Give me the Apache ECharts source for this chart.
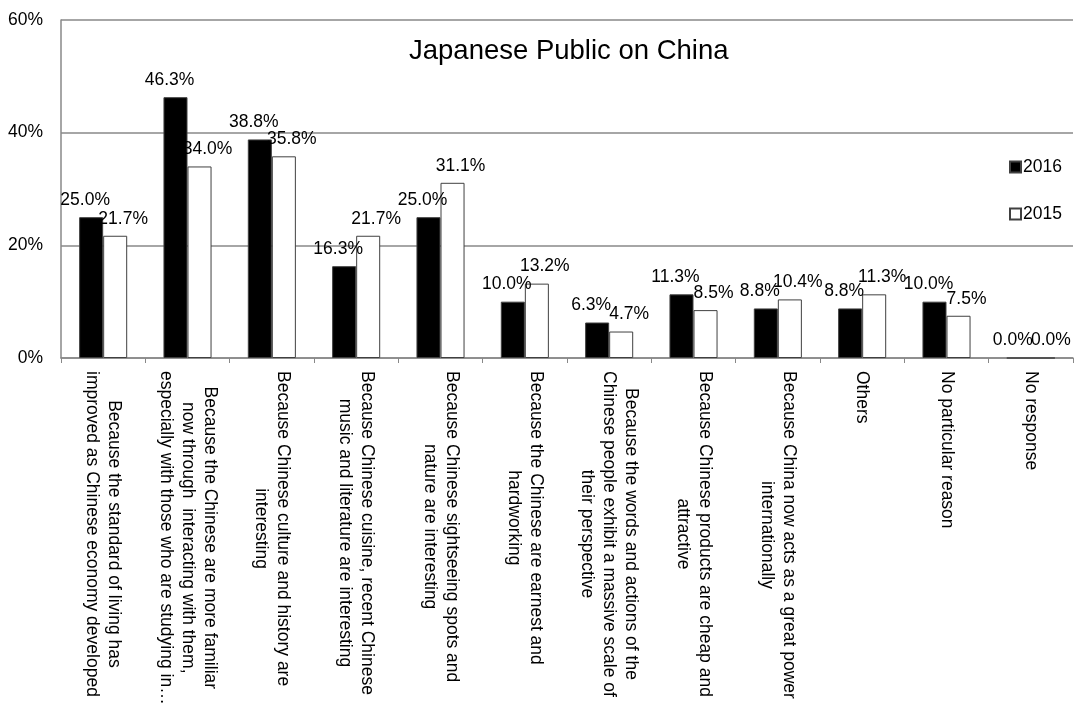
<!DOCTYPE html>
<html>
<head>
<meta charset="utf-8">
<script src="https://cdn.jsdelivr.net/npm/echarts@6/dist/echarts.min.js"></script>
<style>
  html, body { margin: 0; padding: 0; background: #fff; }
  #chart { width: 1090px; height: 704px; }
</style>
</head>
<body>
<div id="chart"></div>
<script>
// categories (line breaks as in the original labels)
const categories = [
  "Because the standard of living has\nimproved as Chinese economy developed",
  "Because the Chinese are more familiar\nnow through  interacting with them,\nespecially with those who are studying in…",
  "Because Chinese culture and history are\ninteresting",
  "Because Chinese cuisine, recent Chinese\nmusic and literature are interesting",
  "Because Chinese sightseeing spots and\nnature are interesting",
  "Because the Chinese are earnest and\nhardworking",
  "Because the words and actions of the\nChinese people exhibit a massive scale of\ntheir perspective",
  "Because Chinese products are cheap and\nattractive",
  "Because China now acts as a great power\ninternationally",
  "Others",
  "No particular reason",
  "No response"
];
const values2016 = [25.0, 46.3, 38.8, 16.3, 25.0, 10.0, 6.3, 11.3, 8.8, 8.8, 10.0, 0.0];
const values2015 = [21.7, 34.0, 35.8, 21.7, 31.1, 13.2, 4.7, 8.5, 10.4, 11.3, 7.5, 0.0];
const yTicks = [0, 20, 40, 60];

const font = "'Liberation Sans', Arial, sans-serif";

const chart = echarts.init(document.getElementById('chart'));

function valueLabel(dx) {
  return {
    show: true,
    position: 'top',
    distance: 8,
    offset: [dx, 0],
    color: '#000',
    fontFamily: font,
    fontSize: 17.5,
    formatter: p => p.value.toFixed(1) + '%'
  };
}

chart.setOption({
  animation: false,
  backgroundColor: '#fff',
  title: {
    text: 'Japanese Public on China',
    left: 404,
    top: 32,
    textStyle: { fontFamily: font, fontSize: 27.5, fontWeight: 'normal', color: '#000' }
  },
  legend: {
    orient: 'vertical',
    left: 1004,
    top: 153,
    itemWidth: 11,
    itemHeight: 11,
    itemGap: 29,
    icon: 'rect',
    textStyle: { fontFamily: font, fontSize: 17.5, color: '#000', padding: [0, 0, 0, -3] },
    data: ['2016', '2015']
  },
  grid: { left: 61, right: 17, top: 20, bottom: 346, containLabel: false, outerBoundsMode: 'none' },
  xAxis: {
    type: 'category',
    data: categories,
    axisLine: { lineStyle: { color: '#888', width: 1.5 } },
    axisTick: { show: true, length: 5, lineStyle: { color: '#888' } },
    axisLabel: {
      interval: 0,
      rotate: -90,
      margin: 13,
      color: '#000',
      fontFamily: font,
      fontSize: 17.5,
      lineHeight: 22,
      formatter: v => v.split('\n').map(l => '{c|' + l + '}').join('\n'),
      rich: { c: { align: 'center', fontFamily: font, fontSize: 17.5, lineHeight: 22, color: '#000' } }
    }
  },
  yAxis: {
    type: 'value',
    min: yTicks[0],
    max: yTicks[yTicks.length - 1],
    interval: 20,
    axisLine: { show: true, lineStyle: { color: '#888', width: 1.5 } },
    axisTick: { show: false },
    axisLabel: { color: '#000', fontFamily: font, fontSize: 17.5, margin: 18, formatter: '{value}%' },
    splitLine: { lineStyle: { color: '#888', width: 1.5 } }
  },
  series: [
    {
      name: '2016',
      type: 'bar',
      data: values2016,
      barGap: '0%',
      barCategoryGap: '43%',
      itemStyle: { color: '#000', borderColor: '#404040', borderWidth: 1 },
      label: valueLabel(-6)
    },
    {
      name: '2015',
      type: 'bar',
      data: values2015,
      itemStyle: { color: '#fff', borderColor: '#404040', borderWidth: 1 },
      label: valueLabel(8)
    }
  ]
});
</script>
</body>
</html>
